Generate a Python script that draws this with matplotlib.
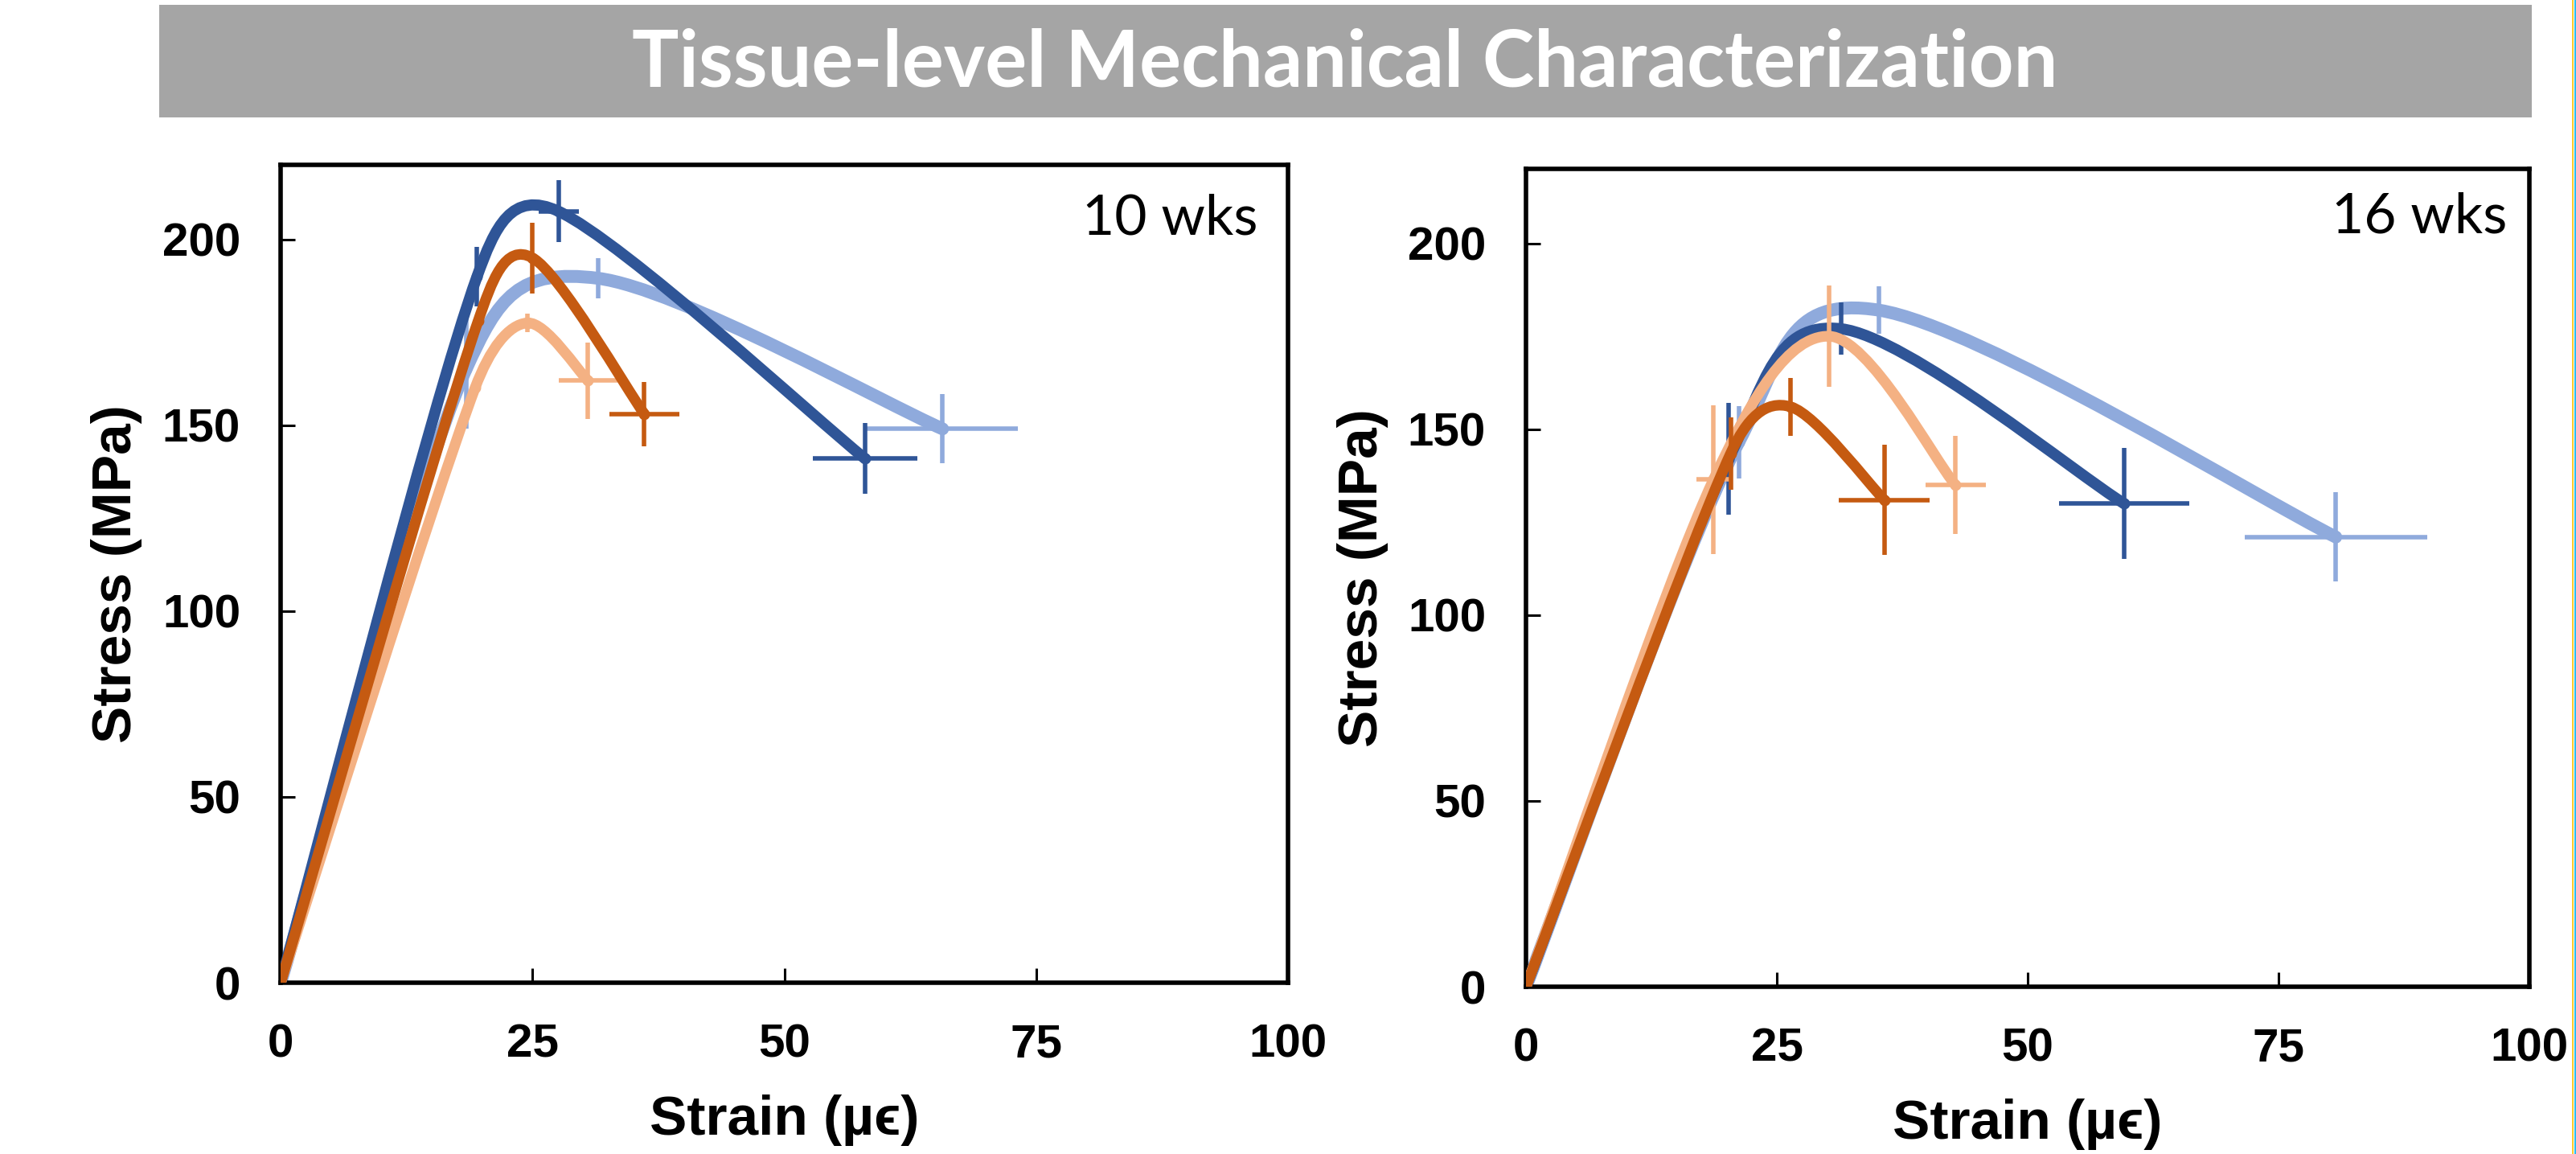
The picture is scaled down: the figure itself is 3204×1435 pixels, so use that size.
import numpy as np
import matplotlib
matplotlib.use("Agg")
import matplotlib.pyplot as plt
from matplotlib.path import Path
from matplotlib.patches import PathPatch, Rectangle
from matplotlib.lines import Line2D

plt.rcParams["font.family"] = ["Liberation Sans", "DejaVu Sans"]

# each curve: origin, yield, ultimate, failure
panel_labels = ["10 wks", "16 wks"]
series_colors = ["#8FAADC", "#2F5597", "#F4B183", "#C55A11"]  # drawing order
series_widths = [11.5, 10.0, 9.5, 9.5]

wk10_strain = [
    [0, 18.4, 31.5, 65.7],
    [0, 19.5, 27.6, 58.0],
    [0, 19.3, 24.5, 30.5],
    [0, 19.6, 25.0, 36.1],
]
wk10_stress = [
    [0, 165, 189.5, 149],
    [0, 190, 207.5, 141],
    [0, 160, 177.5, 162],
    [0, 178, 195, 153],
]
wk10_strain_err = [
    [0, 0, 0, 7.5],
    [0, 0, 2.0, 5.2],
    [0, 0, 0, 2.9],
    [0, 0, 0, 3.5],
]
wk10_stress_err = [
    [0, 16, 5.5, 9.3],
    [0, 8, 8.3, 9.5],
    [0, 0, 2.5, 10.3],
    [0, 0, 9.5, 8.6],
]

wk16_strain = [
    [0, 21.2, 35.2, 80.7],
    [0, 20.2, 31.4, 59.6],
    [0, 18.7, 30.2, 42.8],
    [0, 20.4, 26.4, 35.7],
]
wk16_stress = [
    [0, 146.5, 182, 121],
    [0, 142, 177, 130],
    [0, 136.5, 175, 135],
    [0, 143.5, 156, 131],
]
wk16_strain_err = [
    [0, 0, 0, 9.1],
    [0, 0, 0, 6.5],
    [0, 1.7, 0, 3.0],
    [0, 0, 0, 4.5],
]
wk16_stress_err = [
    [0, 9.7, 6.4, 12],
    [0, 15, 7, 15],
    [0, 20, 13.6, 13.2],
    [0, 9.7, 7.7, 14.8],
]

x_ticks = [0, 25, 50, 75, 100]
y_ticks = [0, 50, 100, 150, 200]


def smooth_path(ax, xs, ys):
    """Excel style smoothed line: bezier segments built in display space"""
    pts = ax.transData.transform(np.column_stack([xs, ys]))
    n = len(pts)
    verts = [pts[0]]
    codes = [Path.MOVETO]
    for i in range(n - 1):
        p0 = pts[i - 1] if i > 0 else pts[i]
        p1, p2 = pts[i], pts[i + 1]
        p3 = pts[i + 2] if i + 2 < n else pts[i + 1]
        half = np.hypot(*(p2 - p1)) / 2
        arms = []
        for a in ((p2 - p0) / 6, (p3 - p1) / 6):
            length = np.hypot(*a)
            if length > half:
                a = a * half / length
            arms.append(a)
        verts += [p1 + arms[0], p2 - arms[1], p2]
        codes += [Path.CURVE4] * 3
    verts = ax.transData.inverted().transform(np.array(verts))
    return Path(verts, codes)


fig = plt.figure(figsize=(32.05, 14.35), dpi=100)

# title banner
fig.patches.append(Rectangle((0.0618, 0.8983), 0.9207, 0.0976, transform=fig.transFigure,
                             facecolor="#A5A5A5", edgecolor="none"))
fig.text(0.522, 0.945, "Tissue-level Mechanical Characterization", color="white",
         fontsize=70, fontweight="bold", family=["Lato", "DejaVu Sans"],
         ha="center", va="center")

# slide border lines on the right edge
fig.add_artist(Line2D([0.99855, 0.99855], [0, 1], transform=fig.transFigure,
                      color="#FFC000", lw=1.2))
fig.add_artist(Line2D([0.99945, 0.99945], [0, 1], transform=fig.transFigure,
                      color="#00B0F0", lw=1.2))

panels = [
    ([0.1089, 0.1484, 0.3910, 0.7087], wk10_strain, wk10_stress, wk10_strain_err, wk10_stress_err, 0.970, 0.934),
    ([0.5922, 0.1449, 0.3894, 0.7087], wk16_strain, wk16_stress, wk16_strain_err, wk16_stress_err, 0.978, 0.941),
]

for (rect, strain, stress, strain_err, stress_err, lx, ly), label in zip(panels, panel_labels):
    ax = fig.add_axes(rect)
    ax.set_xlim(0, 100)
    ax.set_ylim(0, 220)
    ax.set_xticks(x_ticks)
    ax.set_yticks(y_ticks)
    ax.tick_params(direction="in", length=13, width=2.2, labelsize=42, pad=36)
    for t in ax.get_xticklabels() + ax.get_yticklabels():
        t.set_fontweight("bold")
    for sp in ax.spines.values():
        sp.set_linewidth(4)

    z = 2
    for xs, ys, xe, ye, c, w in zip(strain, stress, strain_err, stress_err,
                                    series_colors, series_widths):
        path = smooth_path(ax, xs, ys)
        ax.add_patch(PathPatch(path, facecolor="none", edgecolor=c, lw=w,
                               capstyle="round", joinstyle="round", zorder=z))
        ax.errorbar(xs[1:], ys[1:], xerr=xe[1:], yerr=ye[1:], fmt="o", ms=9,
                    color=c, ecolor=c, elinewidth=4, capsize=0, zorder=z + 1)
        z += 2

    ax.text(lx, ly, label, transform=ax.transAxes, ha="right", va="center",
            fontsize=50, family=["Lato", "DejaVu Sans"])

    ax.set_xlabel("Strain (\u00b5\u03f5)", fontsize=50, fontweight="bold")
    ax.set_ylabel("Stress (MPa)", fontsize=50, fontweight="bold")
    ax.xaxis.label.set_va("center")
    ax.yaxis.label.set_va("center")
    ax.xaxis.set_label_coords(0.5, -0.168)
    ax.yaxis.set_label_coords(-0.163, 0.5)

fig.savefig("out.png", dpi=100)
